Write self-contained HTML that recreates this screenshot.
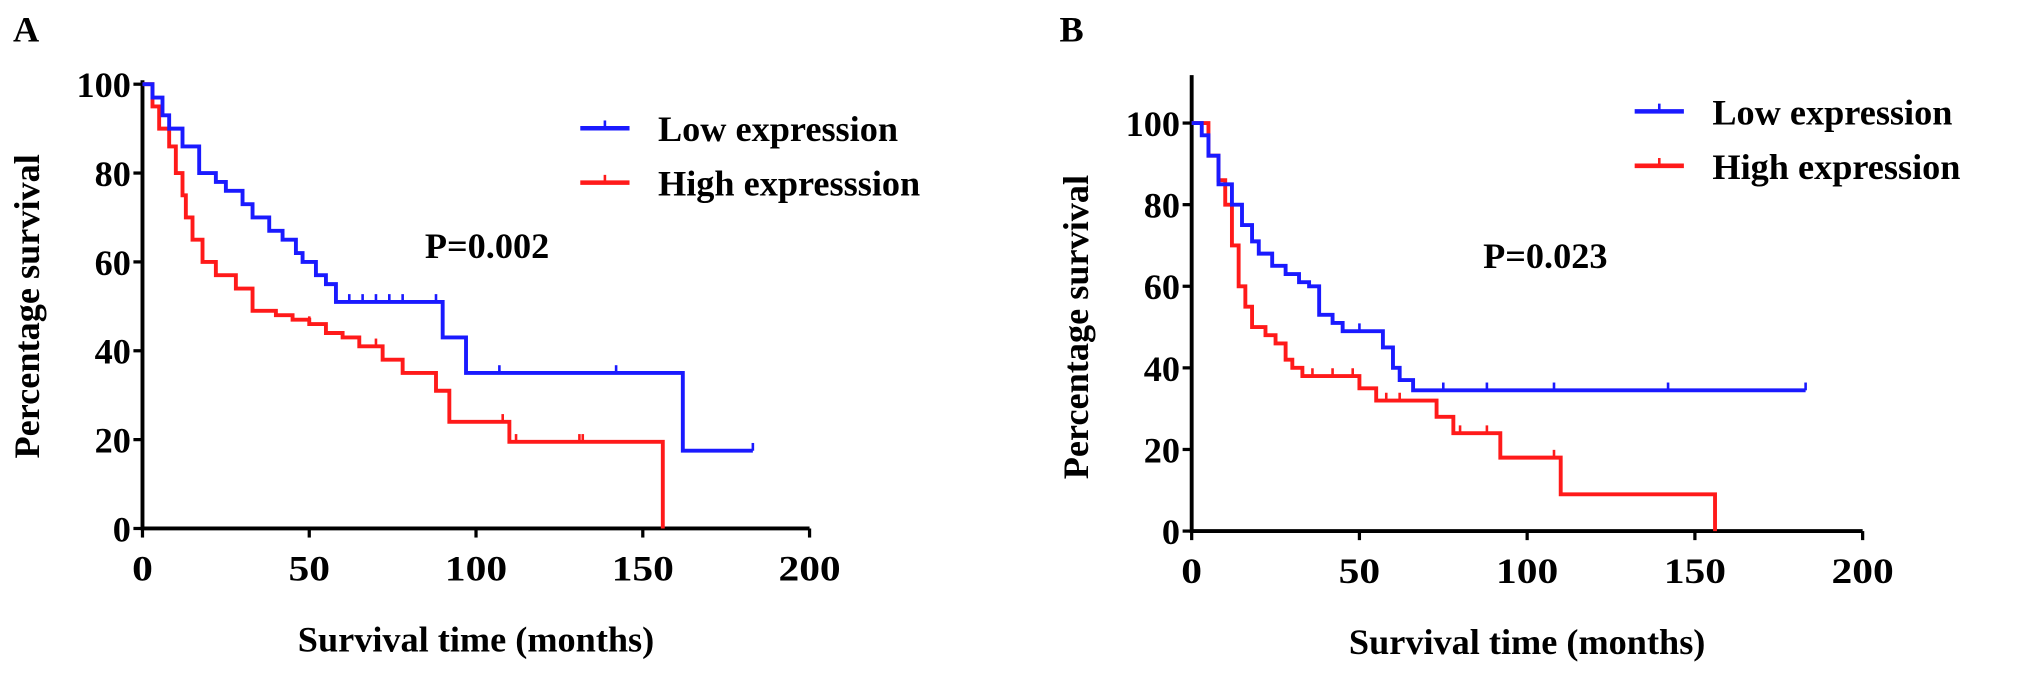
<!DOCTYPE html>
<html><head><meta charset="utf-8"><style>
html,body{margin:0;padding:0;background:#fff;}
svg{display:block;font-family:"Liberation Serif",serif;font-weight:bold;}
</style></head><body>
<svg width="2031" height="673" viewBox="0 0 2031 673"><g id="c" transform="scale(1.2953)"></g></svg>
<script>
const aLowT=[0,3,6,8,12,17,22,25,30,33,38,42,46,48,52,55,58,90,97,162,183];
const aLowV=[100,97,93,90,86,80,78,76,73,70,67,65,62,60,57,55,51,43,35,17.5,17.5];
const aHighT=[0,3,5,8,10,12,13,15,18,22,28,33,40,45,50,55,60,65,72,78,88,92,110,156];
const aHighV=[100,95,90,86,80,75,70,65,60,57,54,49,48,47,46,44,43,41,38,35,31,24,19.5,0];
const aLowCens=[62,66,70,74,78,88,107,142,183];
const aHighCens=[50,70,108,112,131,132];
const bLowT=[0,3,5,8,12,15,18,20,24,28,32,35,38,42,45,57,60,62,66,183];
const bLowV=[100,97,92,85,80,75,71,68,65,63,61,60,53,51,49,45,40,37,34.5,34.5];
const bHighT=[0,5,8,10,12,14,16,18,22,25,28,30,33,45,50,55,70,73,78,91,92,110,156];
const bHighV=[100,92,86,80,70,60,55,50,48,46,42,40,38,38,35,32,32,28,24,24,18,9,0];
const bLowCens=[50,75,88,108,142,183];
const bHighCens=[36,42,48,58,62,80,88,108];
const xTicks=[0,50,100,150,200];
const yTicks=[0,20,40,60,80,100];
const NS="http://www.w3.org/2000/svg";
const svg=document.getElementById('c');
function mk(t,a,p){const e=document.createElementNS(NS,t);for(const k in a)e.setAttribute(k,a[k]);(p||svg).appendChild(e);return e;}
function panel(P){
  const g=mk('g',{});
  
  
  const X=t=>P.x0+(t/200)*(P.x1-P.x0);
  const Y=v=>P.y0-(v/100)*(P.y0-P.y100);
  const ax=mk('path',{d:`M${X(0)},${P.yTop}V${P.y0}H${X(200)}`,stroke:'#000','stroke-width':3,fill:'none'},g);
  
  
  xTicks.forEach(t=>{
    mk('line',{x1:X(t),x2:X(t),y1:P.y0,y2:P.y0+7,stroke:'#000','stroke-width':2.5},g);
    const tx=mk('text',{x:X(t),y:P.y0+40,'font-size':28,'text-anchor':'middle','textLength':t>=100?48:(t>0?32:16),'lengthAdjust':'spacingAndGlyphs'},g);tx.textContent=t;
    
    
  });
  yTicks.forEach(v=>{
    mk('line',{x1:X(0)-7,x2:X(0),y1:Y(v),y2:Y(v),stroke:'#000','stroke-width':2.5},g);
    const tx=mk('text',{x:X(0)-9,y:Y(v)+10,'font-size':28,'text-anchor':'end'},g);tx.textContent=v;
    
    
  });
  function series(T,V,C,col,name){
    let d=`M${X(T[0])},${Y(V[0])}`;
    for(let i=1;i<T.length;i++){d+=`H${X(T[i])}V${Y(V[i])}`;}
    const p=mk('path',{d:d,stroke:col,'stroke-width':3,fill:'none'},g);
    
    
    C.forEach(t=>{let v=V[0];for(let i=0;i<T.length;i++){if(T[i]<=t)v=V[i];}
      const m=mk('line',{x1:X(t),x2:X(t),y1:Y(v),y2:Y(v)-6,stroke:col,'stroke-width':2},g);
      
      });
  }
  series(P.hT,P.hV,P.hC,'#ff1a1a','high-expression-curve');
  series(P.lT,P.lV,P.lC,'#1a1aff','low-expression-curve');
  const xt=mk('text',{x:(X(0)+X(200))/2,y:P.y0+95,'font-size':28,'text-anchor':'middle'},g);xt.textContent='Survival time (months)';
  
  
  const yt=mk('text',{transform:`translate(${P.x0-80},${(P.y0+P.y100)/2}) rotate(-90)`,'font-size':28,'text-anchor':'middle'},g);yt.textContent='Percentage survival';
  
  
  const lb=mk('text',{x:P.lbx,y:32,'font-size':28},g);lb.textContent=P.label;
  
  
  const pv=mk('text',{x:P.px,y:P.py,'font-size':28},g);pv.textContent=P.p;
  
  
  [[P.l1,'#1a1aff',P.ly1],[P.l2,'#ff1a1a',P.ly2]].forEach(([txt,col,y])=>{
    const ln=mk('line',{x1:P.lx,x2:P.lx+38,y1:y,y2:y,stroke:col,'stroke-width':3.5},g);
    
    
    mk('line',{x1:P.lx+19,x2:P.lx+19,y1:y,y2:y-6,stroke:col,'stroke-width':2},g);
    const t=mk('text',{x:P.lx+60,y:y+10,'font-size':28},g);t.textContent=txt;
    
    
  });
}
panel({id:'panel-a',label:'A',lbx:10,x0:110,x1:625,y0:408,y100:65,yTop:62,lT:aLowT,lV:aLowV,lC:aLowCens,hT:aHighT,hV:aHighV,hC:aHighCens,
  px:328,py:199,p:'P=0.002',lx:448,ly1:99,ly2:141,l1:'Low expression',l2:'High expresssion'});
panel({id:'panel-b',label:'B',lbx:818,x0:920,x1:1438,y0:410,y100:95,yTop:58,lT:bLowT,lV:bLowV,lC:bLowCens,hT:bHighT,hV:bHighV,hC:bHighCens,
  px:1145,py:207,p:'P=0.023',lx:1262,ly1:86,ly2:128,l1:'Low expression',l2:'High expression'});
</script>
</body></html>
